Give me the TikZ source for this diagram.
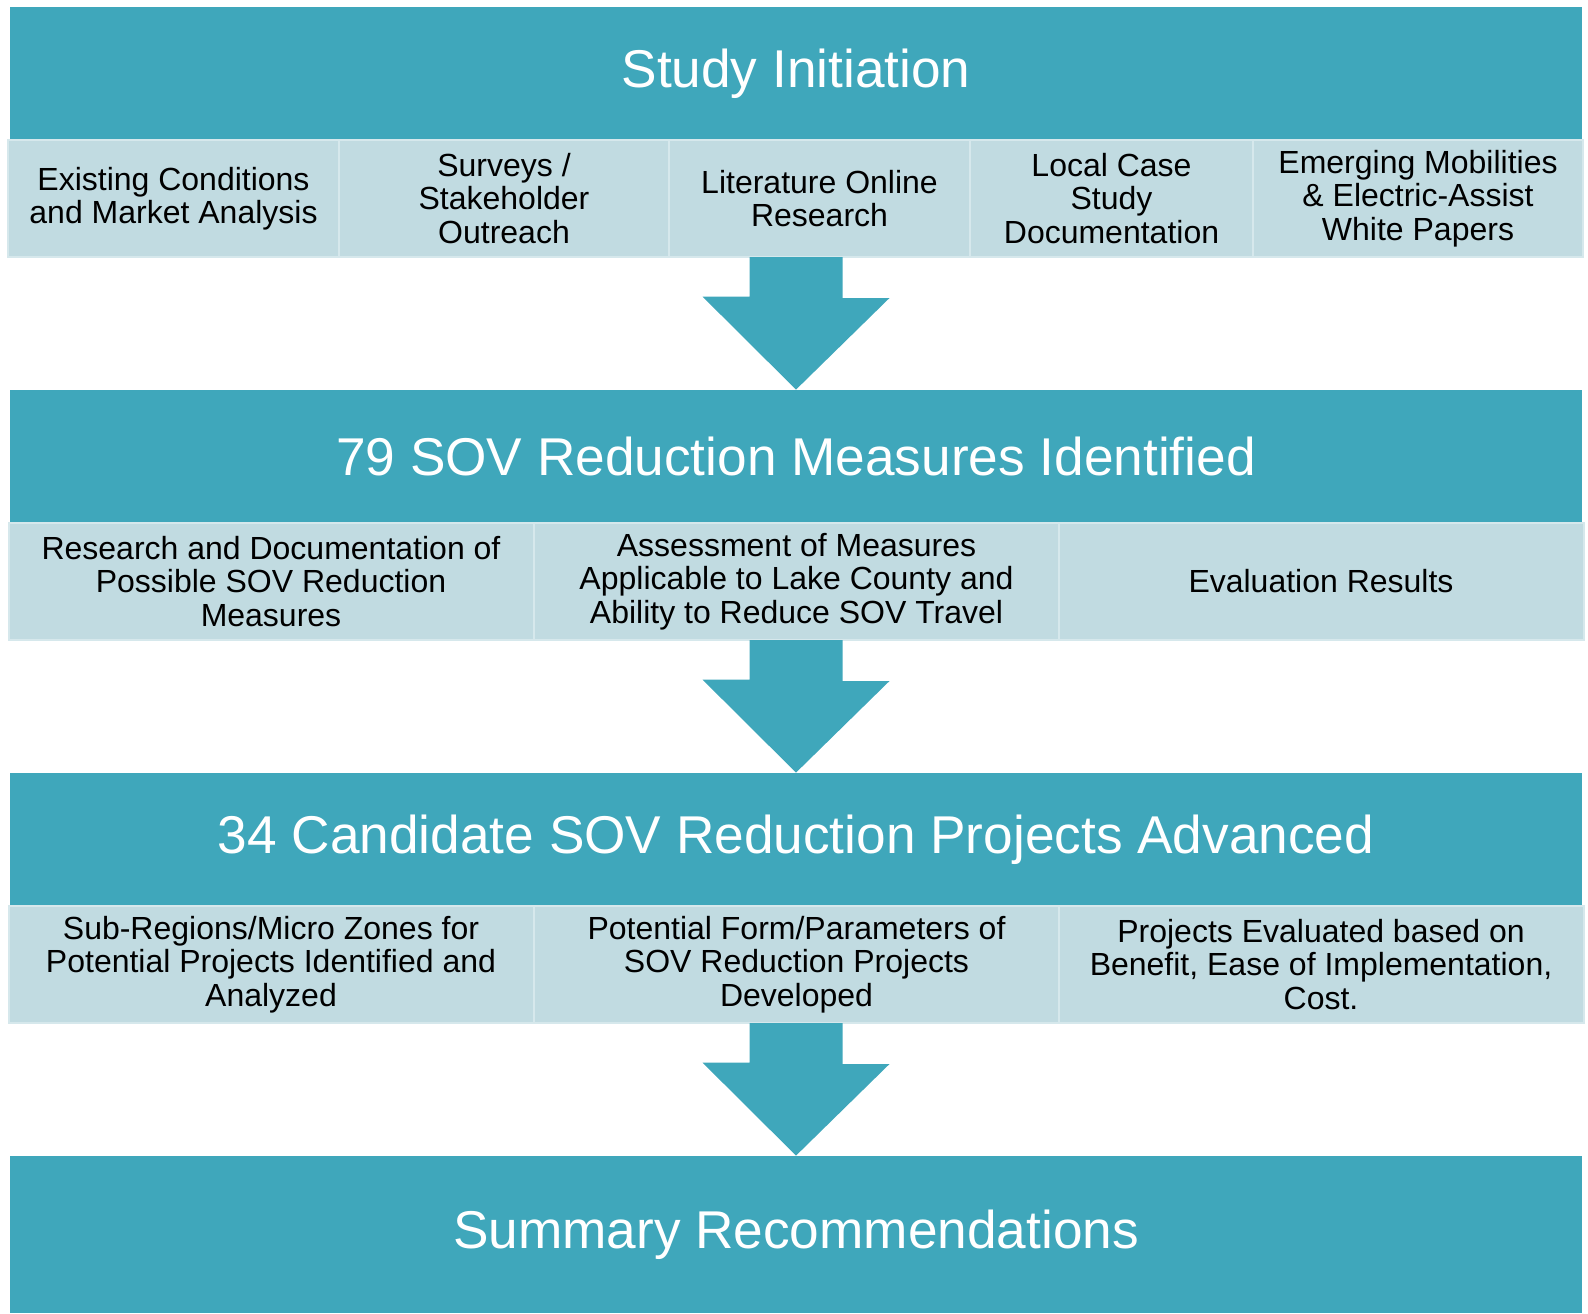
\documentclass[tikz,border=0pt]{standalone}
\usepackage{fontspec}
\setmainfont{Liberation Sans}
\usetikzlibrary{positioning}

\definecolor{hdrteal}{RGB}{63,167,187}
\definecolor{subblue}{RGB}{193,219,225}
\definecolor{subline}{RGB}{214,232,236}

\tikzset{
  header/.style={fill=hdrteal, text=white, font=\fontsize{26.6}{30}\selectfont,
    minimum width=786pt, minimum height=66.5pt, inner sep=0pt},
  subbox/.style={fill=subblue, draw=subline, line width=1pt, align=center,
    font=\fontsize{16}{16.7}\selectfont, minimum height=58.5pt, inner sep=0pt},
  flow/.style={fill=hdrteal},
}

\begin{document}
\begin{tikzpicture}[x=0.5pt,y=-0.5pt]
\useasboundingbox (0,0) rectangle (1588,1313);

% headers
\node[header] (init) at (796,73.5) {Study Initiation};
\node[header] (measures) at (796,456.5) {79 SOV Reduction Measures Identified};
\node[header] (projects) at (796,839.5) {34 Candidate SOV Reduction Projects Advanced};
\node[header, minimum height=78.5pt] (summary) at (796,1234.5) {Summary Recommendations};

% first row
\foreach \x/\w/\name/\txt in {
    173.5/165.5pt/existing/{Existing Conditions\\and Market Analysis},
    504/165pt/surveys/{Surveys /\\Stakeholder\\Outreach},
    819.5/150.5pt/lit/{Literature Online\\Research},
    1111.5/141.5pt/localcase/{Local Case\\Study\\Documentation},
    1418/165pt/emerging/{Emerging Mobilities\\\& Electric-Assist\\White Papers}} {
    \node[subbox, minimum width=\w] (\name) at (\x,198.5) {\txt};
}

% second row
\foreach \x/\name/\txt in {
    271/research/{Research and Documentation of\\Possible SOV Reduction\\Measures},
    796.5/assess/{Assessment of Measures\\Applicable to Lake County and\\Ability to Reduce SOV Travel},
    1321/results/{Evaluation Results}} {
    \node[subbox, minimum width=262.5pt] (\name) at (\x,581.5) {\txt};
}

% third row
\foreach \x/\name/\txt in {
    271/subregions/{Sub-Regions/Micro Zones for\\Potential Projects Identified and\\Analyzed},
    796.5/developed/{Potential Form/Parameters of\\SOV Reduction Projects\\Developed},
    1321/evaluated/{Projects Evaluated based on\\Benefit, Ease of Implementation,\\Cost.}} {
    \node[subbox, minimum width=262.5pt] (\name) at (\x,964.5) {\txt};
}

% block arrows
\foreach \from/\to in {lit/measures, assess/projects, developed/summary} {
    \fill[flow] (\from.south -| \to.north) ++(-46.5,-1) -- ++(93,0) -- ++(0,41)
        -- ++(47,0) -- (\to.north) -- ++(-93.5,-93) -- ++(47,0) -- cycle;
}

\end{tikzpicture}
\end{document}
